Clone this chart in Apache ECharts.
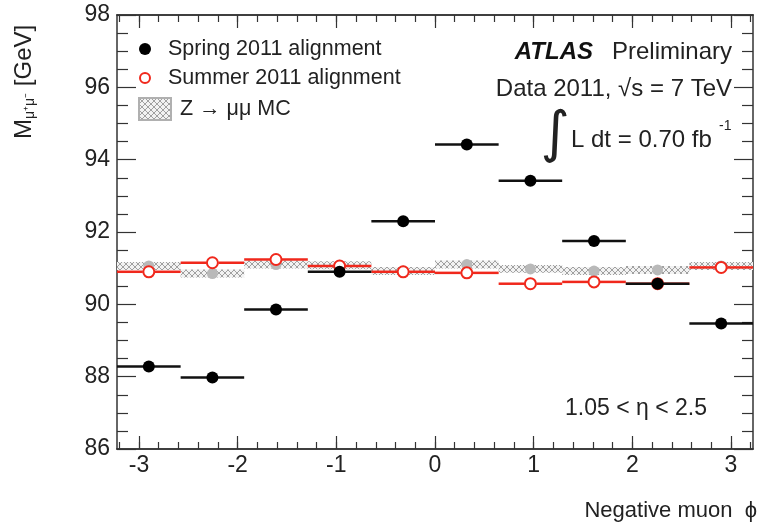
<!DOCTYPE html>
<html>
<head>
<meta charset="utf-8">
<title>Muon pair mass vs negative muon phi</title>
<script src="https://cdn.jsdelivr.net/npm/echarts@6/dist/echarts.min.js"></script>
<style>
  html, body { margin: 0; padding: 0; background: #fff; }
  #massChart { width: 759px; height: 523px; }
</style>
</head>
<body>
<div id="massChart"></div>
<script>
// 10 phi bins
const phiEdges = [-3.223, -2.578, -1.934, -1.289, -0.645, 0, 0.645, 1.289, 1.934, 2.578, 3.223]
const springMass = [88.28, 87.98, 89.86, 90.9, 92.3, 94.42, 93.42, 91.75, 90.57, 89.47]
const summerMass = [90.9, 91.15, 91.24, 91.06, 90.9, 90.87, 90.57, 90.62, 90.57, 91.02]
const mcMass = [91.06, 90.85, 91.1, 91.08, 90.92, 91.1, 90.98, 90.92, 90.95, 91.06]
const mcErr = [0.11, 0.11, 0.11, 0.11, 0.11, 0.11, 0.11, 0.11, 0.11, 0.11]
const phiTicks = [-3, -2, -1, 0, 1, 2, 3]
const massTicks = [86, 88, 90, 92, 94, 96, 98]

const FONT = 'Liberation Sans'

// minor ticks every 0.2 between the majors
const phiMinor = []
for (let k = -16; k <= 16; k++) phiMinor.push(Math.round(k * 2) / 10)

// bins as [lo, hi, value]
const toBins = (vals) => vals.map((v, i) => [phiEdges[i], phiEdges[i + 1], v])
const toPoints = (vals) => vals.map((v, i) => [(phiEdges[i] + phiEdges[i + 1]) / 2, v])

// cross hatch for the MC band
const hatch = document.createElement('canvas')
hatch.width = 6
hatch.height = 6
const hctx = hatch.getContext('2d')
hctx.fillStyle = '#f2f2f2'
hctx.fillRect(0, 0, 6, 6)
hctx.strokeStyle = '#a0a0a0'
hctx.lineWidth = 1
hctx.beginPath()
hctx.moveTo(0, 0); hctx.lineTo(6, 6)
hctx.moveTo(6, 0); hctx.lineTo(0, 6)
hctx.stroke()
const hatchFill = { image: hatch, repeat: 'repeat' }

function hBar(color, gap) {
  return function (params, api) {
    const a = api.coord([api.value(0), api.value(2)])
    const b = api.coord([api.value(1), api.value(2)])
    const mid = (a[0] + b[0]) / 2
    const st = { stroke: color, lineWidth: 2.5 }
    if (!gap) {
      return { type: 'line', shape: { x1: a[0], y1: a[1], x2: b[0], y2: b[1] }, style: st }
    }
    return {
      type: 'group',
      children: [
        { type: 'line', shape: { x1: a[0], y1: a[1], x2: mid - gap, y2: a[1] }, style: st },
        { type: 'line', shape: { x1: mid + gap, y1: a[1], x2: b[0], y2: a[1] }, style: st },
      ],
    }
  }
}

const axisLine = { show: true, onZero: false, lineStyle: { color: '#333', width: 1.5 } }
const tickStyle = { color: '#333', width: 1.2 }

function phiAxis(pos, major, labels) {
  return {
    type: 'value',
    position: pos,
    min: phiEdges[0],
    max: phiEdges[phiEdges.length - 1],
    axisLine: axisLine,
    splitLine: { show: false },
    axisTick: {
      inside: true,
      length: major ? 13 : 7,
      lineStyle: tickStyle,
      customValues: major ? phiTicks : phiMinor,
    },
    axisLabel: labels
      ? { show: true, customValues: phiTicks, margin: 5, color: '#222', fontSize: 23, fontFamily: FONT }
      : { show: false },
  }
}

function massAxis(pos, labels) {
  return {
    type: 'value',
    position: pos,
    min: massTicks[0],
    max: massTicks[massTicks.length - 1],
    interval: 2,
    axisLine: axisLine,
    splitLine: { show: false },
    axisTick: { inside: true, length: 19, lineStyle: tickStyle },
    minorTick: { show: true, splitNumber: 4, length: 11, lineStyle: tickStyle },
    axisLabel: labels
      ? { show: true, margin: 7, color: '#222', fontSize: 23, fontFamily: FONT }
      : { show: false },
  }
}

const legendBase = {
  orient: 'vertical',
  padding: 0,
  selectedMode: false,
  textStyle: { fontSize: 21.5, fontFamily: FONT, color: '#222', lineHeight: 24, padding: [0, 0, 0, 4] },
}

const chart = echarts.init(document.getElementById('massChart'))
chart.setOption({
  animation: false,
  backgroundColor: '#fff',
  grid: { left: 117, right: 6, top: 15, bottom: 74 },
  xAxis: [
    phiAxis('bottom', true, true),
    phiAxis('bottom', false, false),
    phiAxis('top', true, false),
    phiAxis('top', false, false),
  ],
  yAxis: [massAxis('left', true), massAxis('right', false)],
  legend: [
    Object.assign({}, legendBase, {
      left: 139, top: 37, itemWidth: 28, itemHeight: 12,
      data: [{ name: 'Spring 2011 alignment', icon: 'circle' }],
    }),
    Object.assign({}, legendBase, {
      left: 139, top: 66, itemWidth: 28, itemHeight: 10,
      data: [{ name: 'Summer 2011 alignment', icon: 'emptyCircle' }],
    }),
    Object.assign({}, legendBase, {
      left: 138, top: 97, itemWidth: 32, itemHeight: 22,
      data: [{ name: 'Z \u2192 \u03bc\u03bc MC', icon: 'rect' }],
    }),
  ],
  series: [
    {
      name: 'Z \u2192 \u03bc\u03bc MC',
      type: 'custom',
      z: 1,
      itemStyle: { color: hatchFill, borderColor: '#b0b0b0', borderWidth: 0.5 },
      encode: { x: [0, 1], y: [2, 3] },
      data: mcMass.map((v, i) => [phiEdges[i], phiEdges[i + 1], v - mcErr[i], v + mcErr[i]]),
      renderItem: function (params, api) {
        const a = api.coord([api.value(0), api.value(3)])
        const b = api.coord([api.value(1), api.value(2)])
        return {
          type: 'rect',
          shape: { x: a[0], y: a[1], width: b[0] - a[0], height: b[1] - a[1] },
          style: { fill: hatchFill },
        }
      },
    },
    {
      name: 'mcPoints',
      type: 'scatter',
      z: 2,
      symbol: 'circle',
      symbolSize: 11,
      itemStyle: { color: '#b9b9b9', opacity: 1 },
      data: toPoints(mcMass),
    },
    {
      name: 'summerBars',
      type: 'custom',
      z: 3,
      encode: { x: [0, 1], y: 2 },
      data: toBins(summerMass),
      renderItem: hBar('#f0281c', 6),
    },
    {
      name: 'Summer 2011 alignment',
      type: 'scatter',
      z: 4,
      symbol: 'emptyCircle',
      symbolSize: 11,
      itemStyle: { color: '#f0281c', borderColor: '#f0281c', borderWidth: 2, opacity: 1 },
      data: toPoints(summerMass),
    },
    {
      name: 'springBars',
      type: 'custom',
      z: 5,
      encode: { x: [0, 1], y: 2 },
      data: toBins(springMass),
      renderItem: hBar('#111', 0),
    },
    {
      name: 'Spring 2011 alignment',
      type: 'scatter',
      z: 6,
      symbol: 'circle',
      symbolSize: 12,
      itemStyle: { color: '#000', opacity: 1 },
      data: toPoints(springMass),
    },
  ],
  graphic: [
    {
      type: 'text', x: 24, y: 139, rotation: Math.PI / 2,
      style: {
        text: '{m|M}{s|\u03bc\u207a\u03bc\u207b}  {m|[GeV]}',
        align: 'left', verticalAlign: 'middle', fill: '#222',
        rich: {
          m: { fontSize: 24, fontFamily: FONT, fill: '#222', lineHeight: 26 },
          s: { fontSize: 14, fontFamily: FONT, fill: '#222', verticalAlign: 'bottom', lineHeight: 26 },
        },
      },
    },
    {
      type: 'text', x: 593, y: 52,
      style: { text: 'ATLAS', align: 'right', verticalAlign: 'middle', fill: '#111',
        font: 'italic bold 24px "Liberation Sans"' },
    },
    {
      type: 'text', x: 732, y: 52,
      style: { text: 'Preliminary', align: 'right', verticalAlign: 'middle', fill: '#222',
        font: '24px "Liberation Sans"' },
    },
    {
      type: 'text', x: 732, y: 89,
      style: { text: 'Data 2011, \u221as = 7 TeV', align: 'right', verticalAlign: 'middle', fill: '#222',
        font: '24px "Liberation Sans"' },
    },
    {
      type: 'text', x: 555, y: 136,
      style: { text: '\u222b', align: 'center', verticalAlign: 'middle', fill: '#222',
        font: '56px "DejaVu Sans"' },
    },
    {
      type: 'text', x: 571, y: 140,
      style: { text: 'L dt = 0.70 fb', align: 'left', verticalAlign: 'middle', fill: '#222',
        font: '24px "Liberation Sans"' },
    },
    {
      type: 'text', x: 719, y: 126,
      style: { text: '-1', align: 'left', verticalAlign: 'middle', fill: '#222',
        font: '14px "Liberation Sans"' },
    },
    {
      type: 'text', x: 707, y: 409,
      style: { text: '1.05 < \u03b7 < 2.5', align: 'right', verticalAlign: 'middle', fill: '#222',
        font: '23px "Liberation Sans"' },
    },
    {
      type: 'text', x: 757, y: 511,
      style: { text: 'Negative muon  \u03d5', align: 'right', verticalAlign: 'middle', fill: '#222',
        font: '22px "Liberation Sans"' },
    },
  ],
})
</script>
</body>
</html>
